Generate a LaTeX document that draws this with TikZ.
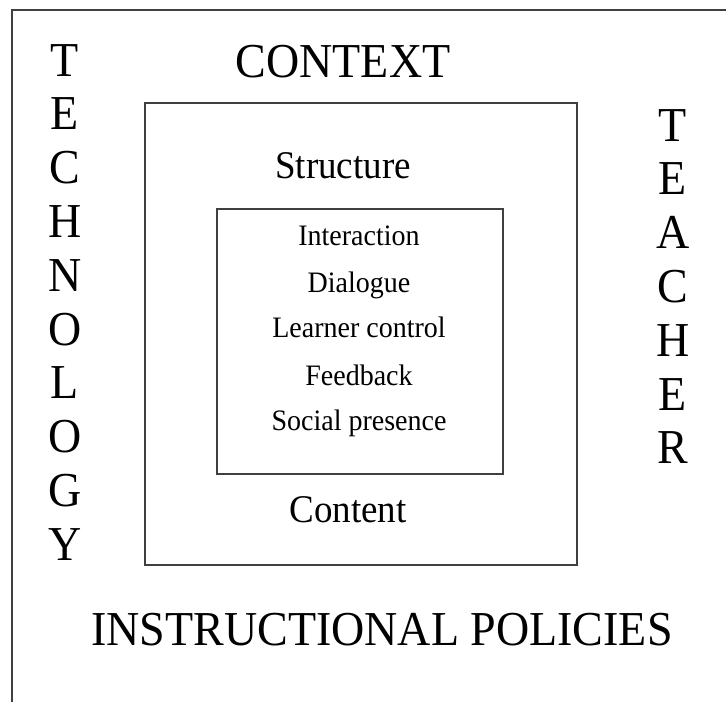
\documentclass[tikz,border=0pt]{standalone}
\usepackage{fontspec}
\setmainfont{Liberation Serif}
\newcommand{\vstretch}[1]{\scalebox{1}[1.06]{#1}}
\begin{document}
\begin{tikzpicture}[x=1pt,y=-1pt,
  frame/.style={draw=black!75,line width=1.6pt},
  big/.style={anchor=base,inner sep=0pt,font=\fontsize{46}{46}\selectfont},
  mid/.style={anchor=base,inner sep=0pt,font=\fontsize{37}{37}\selectfont},
  small/.style={anchor=base,inner sep=0pt,font=\fontsize{28}{28}\selectfont}]
\useasboundingbox (0,0) rectangle (726,702);
\fill[white] (0,0) rectangle (726,702);
% outer frame (left and top only)
\coordinate (ob) at (12,702);
\coordinate (otl) at (12,10);
\coordinate (otr) at (726,10);
\draw[frame] (ob) -- (otl) -- (otr);
% boxes
\node[frame,minimum width=432pt,minimum height=462pt,inner sep=0pt] (mbox) at (361,334) {};
\node[frame,minimum width=286pt,minimum height=265pt,inner sep=0pt] (ibox) at (360,341.5) {};
% labels
\node[big] (context) at (343,77) {\vstretch{CONTEXT}};
\node[big] (policies) at (382,645) {\vstretch{INSTRUCTIONAL POLICIES}};
\node[mid] (structure) at (343,178) {\vstretch{Structure}};
\node[mid] (content) at (348,522) {\vstretch{Content}};
\node[small] (i1) at (359,245) {\vstretch{Interaction}};
\node[small] (i2) at (359,292) {\vstretch{Dialogue}};
\node[small] (i3) at (359,337) {\vstretch{Learner control}};
\node[small] (i4) at (359,385) {\vstretch{Feedback}};
\node[small] (i5) at (359,430) {\vstretch{Social presence}};
% TECHNOLOGY
\foreach \l [count=\i from 0] in {T,E,C,H,N,O,L,O,G,Y}
  \node[big] (tech\i) at (65,76+53.8*\i) {\vstretch{\l}};
% TEACHER
\foreach \l [count=\i from 0] in {T,E,A,C,H,E,R}
  \node[big] (teach\i) at (673,141+53.8*\i) {\vstretch{\l}};
\end{tikzpicture}
\end{document}
